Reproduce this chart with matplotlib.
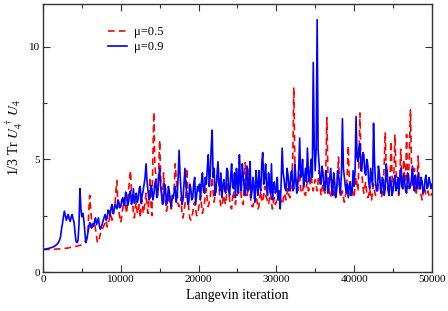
import matplotlib
matplotlib.use("Agg")
import matplotlib.pyplot as plt
from matplotlib.ticker import MultipleLocator

plt.rcParams['font.family'] = ['Liberation Serif', 'DejaVu Serif']
plt.rcParams['mathtext.fontset'] = 'stix'

step = 250
iter_main = [i * step for i in range(201)]          # 0, 250, ..., 50000
iter_mid = [125 + i * step for i in range(200)]     # 125, 375, ..., 49875

# mu = 0.5 (red dashed), values at iter_main
mu05_main = [
    1.00, 1.00, 1.00, 1.00, 1.00, 1.01, 1.01, 1.02, 1.02, 1.03, 1.04, 1.05, 1.06, 1.07, 1.09, 1.10, 1.12, 1.14, 1.16, 1.18,
    1.22, 1.28, 1.40, 1.60, 3.40, 2.30, 2.10, 1.90, 1.30, 1.50, 1.80, 2.00, 2.20, 2.00, 2.30, 2.50, 2.40, 3.00, 4.05, 2.70,
    2.20, 2.80, 3.30, 2.60, 3.60, 4.50, 3.20, 2.40, 3.10, 2.70, 2.40, 3.20, 2.80, 3.50, 2.60, 4.20, 2.50, 7.10, 4.30, 3.40,
    5.85, 3.60, 4.40, 3.20, 2.90, 3.50, 2.80, 3.30, 4.80, 3.60, 2.90, 3.30, 2.40, 3.00, 4.60, 2.70, 2.30, 2.60, 3.10, 2.50,
    2.80, 3.40, 2.60, 3.00, 3.70, 2.90, 3.30, 4.20, 3.10, 3.60, 4.80, 3.20, 2.90, 3.40, 3.00, 4.00, 3.20, 2.80, 3.60, 3.00,
    3.40, 4.90, 3.30, 3.00, 4.85, 3.40, 4.60, 3.10, 2.90, 3.50, 3.20, 2.90, 3.60, 3.10, 3.80, 3.30, 3.00, 3.50, 2.80, 3.30,
    3.10, 3.60, 3.30, 3.00, 3.50, 3.20, 3.70, 3.30, 4.20, 8.20, 4.10, 3.60, 4.40, 3.50, 3.80, 3.40, 4.00, 3.70, 4.30, 3.60,
    4.10, 3.60, 4.50, 3.40, 3.90, 3.50, 6.85, 3.70, 3.30, 4.20, 3.40, 3.70, 5.10, 3.30, 3.60, 3.10, 3.50, 5.60, 3.40, 3.70,
    3.30, 4.20, 3.60, 7.06, 4.40, 3.50, 4.00, 3.30, 3.70, 3.20, 3.90, 3.40, 3.60, 4.40, 3.30, 3.80, 6.20, 3.90, 3.40, 5.80,
    3.60, 6.10, 4.00, 3.40, 5.45, 3.70, 4.00, 6.10, 4.10, 7.20, 3.80, 4.60, 3.40, 5.15, 3.50, 3.20, 3.80, 3.40, 3.60, 3.30,
    3.50,
]
# mu = 0.5, values at iter_mid
mu05_mid = [
    1.00, 1.00, 1.00, 1.00, 1.00, 1.01, 1.02, 1.02, 1.03, 1.03, 1.04, 1.05, 1.06, 1.08, 1.09, 1.11, 1.13, 1.15, 1.17, 1.20,
    1.25, 1.33, 1.50, 2.60, 2.80, 2.00, 2.20, 1.60, 1.40, 1.70, 1.90, 2.10, 2.30, 2.20, 2.60, 2.30, 2.70, 3.60, 3.00, 2.40,
    2.50, 3.10, 2.90, 3.10, 4.10, 3.60, 2.60, 2.90, 2.60, 3.00, 2.90, 2.60, 3.10, 3.00, 3.30, 3.00, 5.00, 4.80, 3.80, 4.50,
    4.20, 3.00, 3.60, 2.70, 3.20, 3.00, 3.20, 3.80, 4.20, 3.00, 3.10, 2.60, 2.70, 3.50, 3.60, 2.40, 2.50, 3.00, 2.80, 2.60,
    3.10, 3.00, 2.80, 3.40, 3.20, 3.10, 3.80, 3.60, 3.40, 4.20, 3.90, 2.90, 3.20, 3.10, 3.60, 3.50, 2.90, 3.30, 3.20, 3.40,
    4.00, 3.80, 3.10, 3.90, 4.00, 3.80, 3.50, 2.90, 3.20, 3.30, 2.80, 3.30, 3.20, 3.40, 3.40, 3.10, 3.30, 3.10, 3.10, 3.00,
    3.40, 3.30, 3.10, 3.20, 3.40, 3.50, 3.40, 3.80, 5.20, 5.00, 3.80, 4.00, 3.70, 3.60, 3.50, 3.80, 3.60, 4.00, 3.80, 3.90,
    3.80, 4.10, 3.80, 3.70, 3.60, 4.80, 4.50, 3.40, 3.70, 3.60, 3.50, 4.20, 3.90, 3.40, 3.30, 3.40, 4.40, 4.20, 3.50, 3.40,
    3.80, 3.90, 5.00, 5.00, 3.80, 3.80, 3.50, 3.40, 3.40, 3.60, 3.60, 3.50, 4.00, 3.70, 3.50, 4.80, 4.50, 3.60, 4.20, 4.30,
    4.50, 4.60, 3.60, 4.30, 4.20, 5.00, 4.20, 3.70, 5.50, 4.80, 4.10, 3.90, 4.20, 3.70, 3.40, 3.50, 3.60, 3.50, 3.40, 3.40,
]

# mu = 0.9 (blue solid), values at iter_main
mu09_main = [
    1.00, 1.01, 1.03, 1.05, 1.08, 1.10, 1.15, 1.22, 1.32, 1.55, 2.15, 2.70, 2.30, 2.55, 2.25, 2.55, 2.20, 1.35, 1.40, 3.70,
    2.45, 2.30, 1.30, 1.70, 2.20, 1.95, 2.05, 2.40, 2.25, 2.05, 2.00, 2.30, 2.55, 2.40, 2.70, 2.85, 2.60, 3.00, 2.80, 3.10,
    2.90, 3.30, 2.95, 3.40, 3.10, 3.60, 3.20, 3.05, 3.50, 3.25, 3.80, 3.40, 3.90, 4.80, 3.60, 3.30, 3.70, 3.45, 4.10, 3.50,
    4.60, 3.40, 3.10, 3.70, 3.20, 3.55, 2.90, 3.30, 3.80, 3.40, 5.40, 3.60, 3.20, 4.60, 3.50, 3.10, 3.70, 3.30, 4.20, 3.40,
    3.60, 3.20, 4.40, 3.50, 3.90, 5.20, 4.30, 6.30, 4.60, 3.70, 4.90, 3.60, 3.30, 4.10, 3.50, 4.50, 3.40, 4.80, 3.70, 3.30,
    4.00, 5.20, 3.60, 4.30, 3.40, 4.70, 3.80, 3.30, 4.20, 3.10, 3.90, 4.50, 3.60, 5.30, 4.20, 3.70, 4.40, 3.50, 3.20, 4.00,
    3.60, 3.20, 2.80, 5.50, 4.10, 3.60, 4.30, 3.80, 4.50, 3.70, 4.20, 3.90, 5.95, 4.30, 3.80, 4.60, 5.50, 4.00, 5.00, 9.30,
    4.50, 11.20, 4.80, 3.90, 4.40, 3.60, 4.10, 3.80, 4.60, 3.40, 4.00, 3.60, 4.30, 3.50, 6.80, 4.20, 3.50, 3.30, 4.00, 3.60,
    3.80, 6.90, 4.90, 5.70, 4.60, 5.20, 4.30, 4.80, 3.70, 4.20, 6.60, 4.00, 3.60, 4.40, 3.50, 4.10, 3.70, 4.50, 3.40, 4.00,
    3.60, 4.30, 3.80, 3.50, 4.60, 3.70, 4.00, 3.50, 4.20, 3.80, 4.70, 3.60, 3.90, 4.40, 3.70, 4.00, 3.60, 4.30, 3.80, 4.00,
    3.90,
]
# mu = 0.9, values at iter_mid
mu09_mid = [
    1.00, 1.02, 1.04, 1.06, 1.09, 1.12, 1.18, 1.26, 1.42, 1.90, 2.45, 2.50, 2.45, 2.35, 2.45, 2.35, 1.70, 1.30, 2.10, 2.80,
    2.60, 1.80, 1.45, 1.95, 2.05, 2.15, 2.25, 2.10, 2.40, 1.90, 2.15, 2.45, 2.30, 2.75, 2.50, 3.00, 2.75, 2.90, 3.20, 2.85,
    3.20, 3.00, 3.55, 2.95, 3.45, 3.00, 3.70, 3.30, 3.10, 3.70, 3.05, 3.60, 4.20, 4.00, 3.20, 3.85, 3.20, 3.90, 3.30, 4.20,
    3.80, 3.00, 3.90, 3.00, 3.80, 3.10, 3.40, 3.60, 3.10, 4.20, 4.30, 3.00, 3.90, 3.80, 3.00, 3.90, 3.20, 3.90, 3.00, 3.80,
    3.90, 4.00, 3.60, 4.20, 4.60, 3.80, 5.50, 4.20, 3.40, 4.30, 3.90, 4.40, 3.80, 3.60, 4.60, 3.60, 4.20, 3.80, 4.40, 4.60,
    3.50, 4.00, 4.80, 3.70, 4.20, 3.60, 4.90, 3.60, 3.70, 4.50, 3.40, 3.80, 4.80, 3.90, 4.80, 3.40, 3.90, 4.80, 3.80, 3.50,
    4.20, 3.60, 4.00, 4.40, 3.70, 4.60, 3.60, 4.40, 3.60, 4.80, 3.50, 4.60, 4.20, 5.00, 4.10, 4.00, 4.40, 4.60, 4.20, 5.60,
    5.50, 5.40, 4.10, 4.70, 3.80, 4.50, 3.50, 4.20, 3.70, 4.40, 3.30, 4.50, 3.80, 4.40, 4.60, 3.80, 3.90, 3.80, 3.40, 4.50,
    4.50, 5.10, 5.50, 4.50, 5.30, 4.40, 5.00, 4.00, 4.60, 3.80, 4.90, 3.60, 4.70, 3.80, 4.20, 3.40, 4.80, 3.70, 4.20, 3.40,
    4.00, 3.60, 4.20, 4.10, 3.80, 4.30, 3.60, 4.40, 3.70, 4.10, 3.90, 4.30, 3.70, 3.90, 4.20, 3.50, 4.10, 3.70, 4.20, 3.70,
]

labels = ["\u03bc=0.5", "\u03bc=0.9"]
xticks = [0, 10000, 20000, 30000, 40000, 50000]
yticks = [0, 5, 10]


def merge(x_a, y_a, x_b, y_b):
    pts = sorted(list(zip(x_a, y_a)) + list(zip(x_b, y_b)))
    return [p[0] for p in pts], [p[1] for p in pts]


x05, y05 = merge(iter_main, mu05_main, iter_mid, mu05_mid)
x09, y09 = merge(iter_main, mu09_main, iter_mid, mu09_mid)

fig = plt.figure(figsize=(4.48, 3.11), dpi=100)
ax = fig.add_axes([0.096, 0.1254, 0.868, 0.862])

ax.plot(x05, y05, color='#ff0000', lw=1.2, dashes=(4, 2.5), label=labels[0])
ax.plot(x09, y09, color='#0000ff', lw=1.2, label=labels[1])

ax.set_xlim(0, 50000)
ax.set_ylim(0, 11.9)
ax.set_xticks(xticks)
ax.set_xticklabels([str(v) for v in xticks])
ax.set_yticks(yticks)
ax.xaxis.set_minor_locator(MultipleLocator(5000))
ax.yaxis.set_minor_locator(MultipleLocator(2.5))
ax.tick_params(which='both', direction='in', top=True, right=True, labelsize=8,
               colors='#333333', labelcolor='black')
ax.tick_params(which='major', length=5, width=0.8, pad=2)
ax.tick_params(which='minor', length=3, width=0.8)
for s in ax.spines.values():
    s.set_color('#333333')
    s.set_linewidth(1.0)

ax.set_xlabel('Langevin iteration', fontsize=10, labelpad=4)
ax.set_ylabel(r'1/3 Tr $U_4^{\,\dagger}\,U_4$', fontsize=10, labelpad=3)

ax.legend(loc='upper left', bbox_to_anchor=(0.145, 0.95), frameon=False, fontsize=9,
          handlelength=1.5, handletextpad=0.6, labelspacing=0.25, borderpad=0.2)

fig.savefig('out.png', dpi=100)
